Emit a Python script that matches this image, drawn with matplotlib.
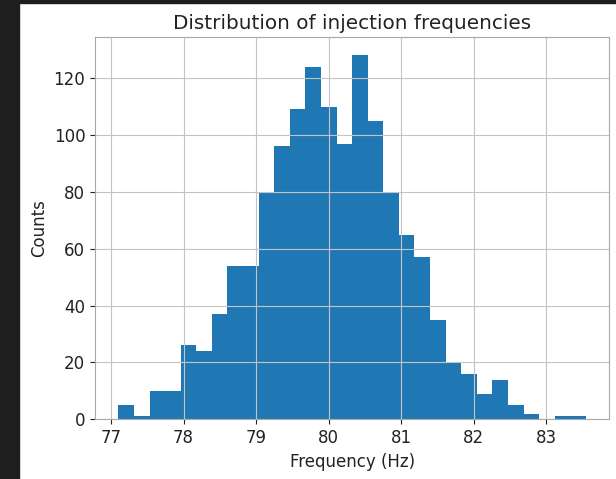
import numpy as np
import matplotlib
matplotlib.use("Agg")
import matplotlib.pyplot as plt
from matplotlib.patches import Rectangle

# histogram: 30 equal bins from 77.10 to 83.55 Hz
bin_lo = 77.10
bin_hi = 83.55
counts = [5, 1, 10, 10, 26, 24, 37, 54, 54, 80,
          96, 109, 124, 110, 97, 128, 105, 80, 65, 57,
          35, 20, 16, 9, 14, 5, 2, 0, 1, 1]
x_ticks = [77, 78, 79, 80, 81, 82, 83]
y_ticks = [0, 20, 40, 60, 80, 100, 120]

edges = np.linspace(bin_lo, bin_hi, len(counts) + 1)
centers = (edges[:-1] + edges[1:]) / 2

plt.rcParams['font.size'] = 12

fig = plt.figure(figsize=(6.16, 4.79), dpi=100)
# dark notebook background strip left and top
fig.patches.append(Rectangle((0, 0), 19 / 616, 1, transform=fig.transFigure,
                             color="#1e1e1e", zorder=10))
fig.patches.append(Rectangle((0, 1 - 3 / 479), 1, 3 / 479, transform=fig.transFigure,
                             color="#1e1e1e", zorder=10))

ax = fig.add_axes([95 / 616, 1 - 419.3 / 479, (609.3 - 95) / 616, (419.3 - 37.3) / 479])
ax.hist(centers, bins=edges, weights=counts, color="#1f77b4")
ax.grid(True, color="#c4c4c4", linewidth=0.8)
for s in ax.spines.values():
    s.set_color("#a8a8a8")

ax.set_xticks(x_ticks)
ax.set_yticks(y_ticks)
ax.tick_params(labelsize=12, colors="#222222")
ax.set_title("Distribution of injection frequencies", fontsize=14.4, color="#222222")
ax.set_xlabel("Frequency (Hz)", fontsize=12, color="#222222")
ax.set_ylabel("Counts", fontsize=12, color="#222222")

fig.savefig("out.png", dpi=100)
